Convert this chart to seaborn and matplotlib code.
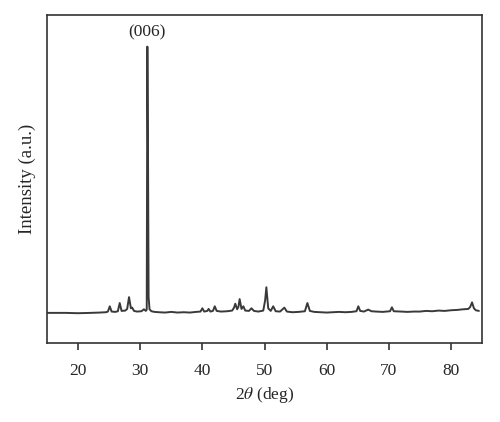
import matplotlib
matplotlib.use("Agg")
import matplotlib.pyplot as plt
import seaborn as sns
import pandas as pd

# XRD trace (2theta in deg, intensity in a.u.)
two_theta = [
    15.0, 18.0, 20.0, 22.0, 23.5, 24.5, 24.8, 25.1, 25.4, 26.0,
    26.4, 26.7, 27.0, 27.6, 27.9, 28.2, 28.5, 28.7, 29.0, 29.5,
    30.2, 30.6, 30.9, 31.05, 31.15, 31.25, 31.35, 31.5, 31.8, 32.3,
    33.0, 34.0, 35.0, 36.0, 37.0, 38.0, 39.0, 39.7, 40.0, 40.3,
    40.8, 41.0, 41.3, 41.7, 42.0, 42.3, 43.0, 44.0, 44.8, 45.1,
    45.3, 45.6, 45.8, 46.0, 46.3, 46.6, 46.9, 47.5, 47.9, 48.3,
    49.0, 49.8, 50.1, 50.3, 50.6, 51.0, 51.4, 51.8, 52.5, 53.2,
    53.6, 54.5, 55.5, 56.5, 56.9, 57.3, 58.0, 59.0, 60.0, 61.0,
    62.0, 63.0, 64.0, 64.8, 65.1, 65.4, 66.0, 66.7, 67.2, 68.0,
    69.0, 70.2, 70.5, 70.8, 72.0, 73.0, 74.0, 75.0, 76.0, 77.0,
    78.0, 79.0, 80.0, 81.0, 82.0, 82.8, 83.1, 83.4, 83.7, 84.0,
    84.5,
]
intensity = [
    9.2, 9.2, 9.1, 9.2, 9.3, 9.4, 9.6, 11.2, 9.6, 9.5,
    9.7, 12.2, 9.8, 9.9, 10.4, 14.0, 10.6, 10.8, 9.8, 9.6,
    9.7, 10.3, 9.8, 10.2, 90.3, 60.0, 14.0, 10.3, 9.7, 9.5,
    9.4, 9.3, 9.5, 9.3, 9.4, 9.3, 9.5, 9.6, 10.6, 9.6,
    9.8, 10.4, 9.6, 9.8, 11.2, 9.8, 9.6, 9.7, 9.9, 10.8,
    12.0, 10.3, 11.0, 13.4, 10.4, 11.2, 9.9, 9.8, 10.6, 9.8,
    9.6, 9.9, 13.0, 17.0, 10.6, 9.8, 11.2, 9.7, 9.6, 10.8,
    9.6, 9.4, 9.5, 9.7, 12.2, 9.8, 9.5, 9.4, 9.3, 9.4,
    9.5, 9.4, 9.5, 9.7, 11.2, 9.8, 9.6, 10.2, 9.7, 9.6,
    9.5, 9.7, 10.9, 9.7, 9.6, 9.5, 9.6, 9.6, 9.8, 9.7,
    9.9, 9.8, 10.0, 10.1, 10.3, 10.4, 11.0, 12.4, 10.6, 10.0,
    9.8,
]
x_ticks = [20, 30, 40, 50, 60, 70, 80]
peak_label = "(006)"
peak_pos = 31.15

df = pd.DataFrame({"two_theta": two_theta, "intensity": intensity})

sns.set_style("ticks")
plt.rcParams["font.family"] = ["Liberation Serif", "DejaVu Serif"]
plt.rcParams["mathtext.fontset"] = "stix"

fig = plt.figure(figsize=(5, 4.22), dpi=100)
ax = fig.add_axes([0.094, 0.187, 0.87, 0.778])

sns.lineplot(data=df, x="two_theta", y="intensity", color="#3a3a3a",
             linewidth=1.4, ax=ax, sort=False)

ax.set_xlim(15, 85)
ax.set_ylim(0, 100)
ax.set_xticks(x_ticks)
ax.set_yticks([])
ax.tick_params(axis="x", direction="out", length=5, width=1.2,
               color="#333333", labelsize=12.5, pad=9)
for s in ax.spines.values():
    s.set_linewidth(1.2)
    s.set_color("#333333")

ax.set_xlabel(r"2$\theta$ (deg)", fontsize=12.5, labelpad=5)
ax.set_ylabel("Intensity (a.u.)", fontsize=13.5, labelpad=8)
ax.text(peak_pos, 92.3, peak_label, ha="center", va="bottom", fontsize=12.5)

fig.savefig("out.png", dpi=100)
